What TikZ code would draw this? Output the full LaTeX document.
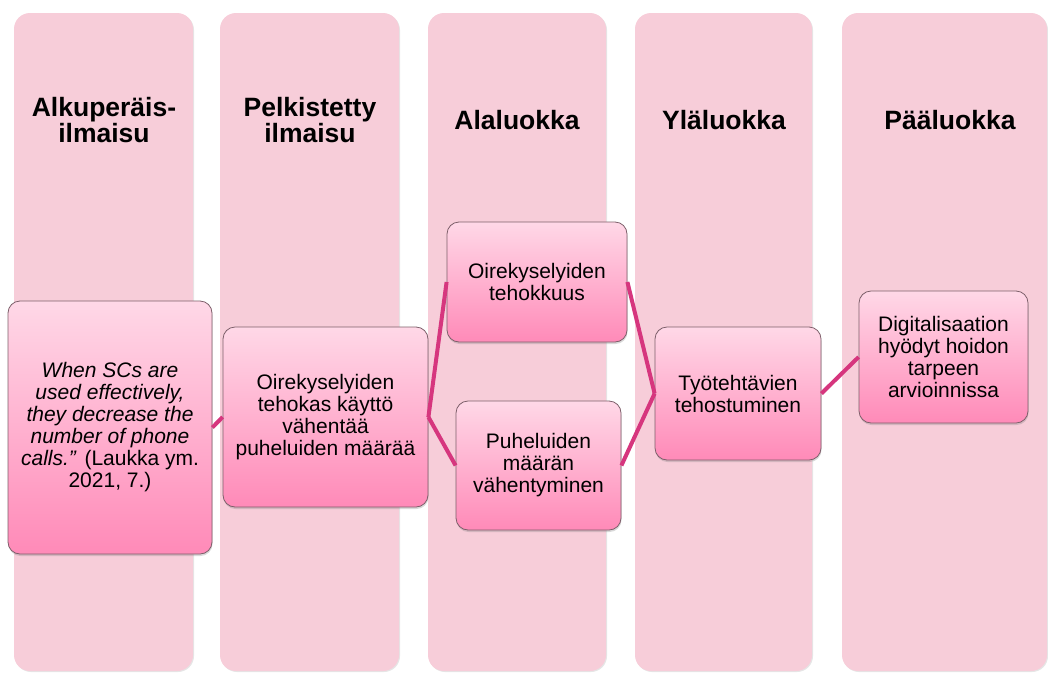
\documentclass[tikz,border=0pt]{standalone}
\usepackage{fontspec}
\setmainfont{Liberation Sans}
\usetikzlibrary{shadows}
\definecolor{columnpink}{RGB}{247,205,217}
\definecolor{boxtop}{RGB}{255,216,231}
\definecolor{boxbottom}{RGB}{255,138,184}
\definecolor{boxline}{RGB}{125,95,106}
\definecolor{linkpink}{RGB}{214,54,126}

\tikzset{
  column/.style={fill=columnpink, rounded corners=16pt,
    drop shadow={shadow xshift=1pt, shadow yshift=-1pt, opacity=0.2}},
  header/.style={font=\bfseries\fontsize{26.5}{26}\selectfont, align=center, inner sep=0pt},
  entry/.style={draw=boxline, line width=0.8pt, top color=boxtop, bottom color=boxbottom,
    rounded corners=12pt, align=center, inner sep=2pt,
    font=\fontsize{21}{22}\selectfont,
    drop shadow={shadow xshift=0.5pt, shadow yshift=-2pt, opacity=0.3}},
  link/.style={draw=linkpink, line width=4pt}
}

\begin{document}
\begin{tikzpicture}[x=1pt, y=-1pt]
    \useasboundingbox (0,0) rectangle (1048,672);

    % Columns
    \path[column] (14,13) rectangle (193,671);
    \path[column] (220,13) rectangle (399,671);
    \path[column] (428,13) rectangle (606,671);
    \path[column] (635,13) rectangle (812,671);
    \path[column] (842,13) rectangle (1047,671);

    % Column headers
    \node[header] (h1) at (104,120) {Alkuperäis-\\ilmaisu};
    \node[header] (h2) at (310,120) {Pelkistetty\\ilmaisu};
    \node[header] (h3) at (517,120) {Alaluokka};
    \node[header] (h4) at (724,120) {Yläluokka};
    \node[header] (h5) at (950,120) {Pääluokka};

    % Entries
    \node[entry, minimum width=204pt, minimum height=253pt] (orig) at (110,427.5)
        {\textit{When SCs are}\\\textit{used effectively,}\\\textit{they decrease the}\\\textit{number of phone}\\\textit{calls.”} (Laukka ym.\\2021, 7.)};
    \node[entry, minimum width=205pt, minimum height=180pt] (simple) at (325.5,417)
        {Oirekyselyiden\\tehokas käyttö\\vähentää\\puheluiden määrää};
    \node[entry, minimum width=180pt, minimum height=120pt] (sub1) at (537,282)
        {Oirekyselyiden\\tehokkuus};
    \node[entry, minimum width=165pt, minimum height=129pt] (sub2) at (538.5,465.5)
        {Puheluiden\\määrän\\vähentyminen};
    \node[entry, minimum width=166pt, minimum height=133pt] (upper) at (738,393.5)
        {Työtehtävien\\tehostuminen};
    \node[entry, minimum width=169pt, minimum height=132pt] (main) at (943.5,357)
        {Digitalisaation\\hyödyt hoidon\\tarpeen\\arvioinnissa};

    % Links
    \draw[link] (orig.east) -- (simple.west);
    \draw[link] (simple.east) -- (sub1.west);
    \draw[link] (simple.east) -- (sub2.west);
    \draw[link] (sub1.east) -- (upper.west);
    \draw[link] (sub2.east) -- (upper.west);
    \draw[link] (upper.east) -- (main.west);
\end{tikzpicture}
\end{document}
